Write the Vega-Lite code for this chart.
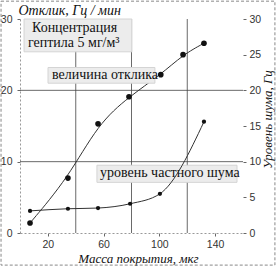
{
  "$schema": "https://vega.github.io/schema/vega-lite/v6.json",
  "width": 223,
  "height": 214,
  "autosize": "none",
  "padding": {"left": 20, "top": 19, "right": 34, "bottom": 34},
  "background": "white",
  "config": {
    "view": {"stroke": null},
    "axis": {
      "labelFont": "Liberation Sans",
      "labelFontSize": 10.5,
      "labelColor": "#333",
      "labelOverlap": false,
      "titleFont": "Liberation Serif",
      "titleFontStyle": "italic",
      "titleFontWeight": "normal",
      "titleFontSize": 14,
      "titleColor": "#111",
      "tickColor": "#666",
      "tickSize": 3,
      "grid": false
    }
  },
  "datasets": {
    "response": [
      {"m": 7.2, "v": 1.4}, {"m": 34.4, "v": 7.7}, {"m": 56, "v": 15.3},
      {"m": 78.2, "v": 19.1}, {"m": 101, "v": 22.2}, {"m": 117, "v": 25}, {"m": 132, "v": 26.6}
    ],
    "noise": [
      {"m": 7.2, "v": 3.1}, {"m": 34.4, "v": 3.4}, {"m": 56, "v": 3.5},
      {"m": 79, "v": 4.1}, {"m": 100.4, "v": 5.5}, {"m": 132, "v": 15.6}
    ],
    "gridx": [{"g": 40}, {"g": 80}, {"g": 120}],
    "gridy": [{"g": 10}, {"g": 20}],
    "frame": [{"x1": -13.6, "x2": 182.9, "y1": -4.5, "y2": 32.5}],
    "boxes": [
      {"x1": 2.9, "x2": 80.3, "y1": 25.4, "y2": 30.0},
      {"x1": 20.1, "x2": 96.8, "y1": 21.0, "y2": 23.2},
      {"x1": 55.2, "x2": 155.7, "y1": 7.1, "y2": 9.5}
    ],
    "labels": [
      {"x": 8.6, "y": 28.7, "t": "Концентрация"},
      {"x": 5.7, "y": 26.6, "t": "гептила 5 мг/м³"},
      {"x": 23, "y": 22.1, "t": "величина отклика"},
      {"x": 57.4, "y": 8.4, "t": "уровень частного шума"}
    ]
  },
  "layer": [
    {
      "layer": [
        {
          "data": {"name": "frame"},
          "mark": {"type": "rect", "filled": false, "stroke": "#888", "strokeDash": [3, 2], "strokeWidth": 1},
          "encoding": {
            "x": {"field": "x1", "type": "quantitative", "scale": {"domain": [0, 160], "nice": false}},
            "x2": {"field": "x2"},
            "y": {"field": "y1", "type": "quantitative", "scale": {"domain": [0, 30], "nice": false}},
            "y2": {"field": "y2"}
          }
        },
        {
          "data": {"name": "gridx"},
          "mark": {"type": "rule", "color": "#444", "strokeWidth": 0.8},
          "encoding": {"x": {"field": "g", "type": "quantitative"}}
        },
        {
          "data": {"name": "gridy"},
          "mark": {"type": "rule", "color": "#444", "strokeWidth": 0.8},
          "encoding": {"y": {"field": "g", "type": "quantitative"}}
        },
        {
          "data": {"name": "response"},
          "mark": {"type": "line", "interpolate": "basis", "color": "#333", "strokeWidth": 1},
          "encoding": {
            "x": {"field": "m", "type": "quantitative"},
            "y": {"field": "v", "type": "quantitative"}
          }
        },
        {
          "data": {"name": "response"},
          "mark": {"type": "point", "filled": true, "color": "#111", "size": 32, "opacity": 1},
          "encoding": {
            "x": {
              "field": "m", "type": "quantitative",
              "scale": {"domain": [0, 160], "nice": false},
              "axis": {
                "values": [20, 40, 60, 80, 100, 120, 140, 160],
                "title": "Масса покрытия, мкг",
                "titleFontSize": 13,
                "titleX": 118, "titleY": 29, "titleAlign": "center", "titleBaseline": "alphabetic",
                "domainColor": "#999", "domainDash": [2, 2],
                "labelPadding": 3
              }
            },
            "y": {
              "field": "v", "type": "quantitative",
              "scale": {"domain": [0, 30], "nice": false},
              "axis": {
                "orient": "left",
                "values": [0, 5, 10, 15, 20, 25, 30],
                "title": "Отклик, Гц / мин",
                "titleAngle": 0, "titleAlign": "left", "titleBaseline": "alphabetic",
                "titleX": -2, "titleY": -5,
                "domainColor": "#999", "domainDash": [2, 2],
                "labelPadding": 5
              }
            }
          }
        },
        {
          "data": {"name": "boxes"},
          "mark": {"type": "rect", "fill": "#ececec", "stroke": "#d4d4d4", "strokeWidth": 1},
          "encoding": {
            "x": {"field": "x1", "type": "quantitative"},
            "x2": {"field": "x2"},
            "y": {"field": "y1", "type": "quantitative"},
            "y2": {"field": "y2"}
          }
        },
        {
          "data": {"name": "labels"},
          "mark": {"type": "text", "font": "Liberation Serif", "fontSize": 14, "align": "left", "baseline": "middle", "color": "#111"},
          "encoding": {
            "x": {"field": "x", "type": "quantitative"},
            "y": {"field": "y", "type": "quantitative"},
            "text": {"field": "t"}
          }
        }
      ]
    },
    {
      "data": {"name": "noise"},
      "encoding": {
        "x": {"field": "m", "type": "quantitative"},
        "y": {
          "field": "v", "type": "quantitative",
          "axis": {
            "orient": "right",
            "values": [0, 5, 10, 15, 20, 25, 30],
            "title": "Уровень шума, Гц",
            "titleFontSize": 13,
            "titleAngle": 270, "titleAlign": "center", "titleBaseline": "alphabetic",
            "titleX": 28, "titleY": 100,
            "domain": false,
            "labelPadding": 3
          }
        }
      },
      "layer": [
        {"mark": {"type": "line", "interpolate": "monotone", "color": "#333", "strokeWidth": 1}},
        {"mark": {"type": "point", "filled": true, "color": "#111", "size": 18, "opacity": 1}}
      ]
    }
  ],
  "resolve": {"scale": {"y": "shared"}, "axis": {"y": "independent"}}
}
